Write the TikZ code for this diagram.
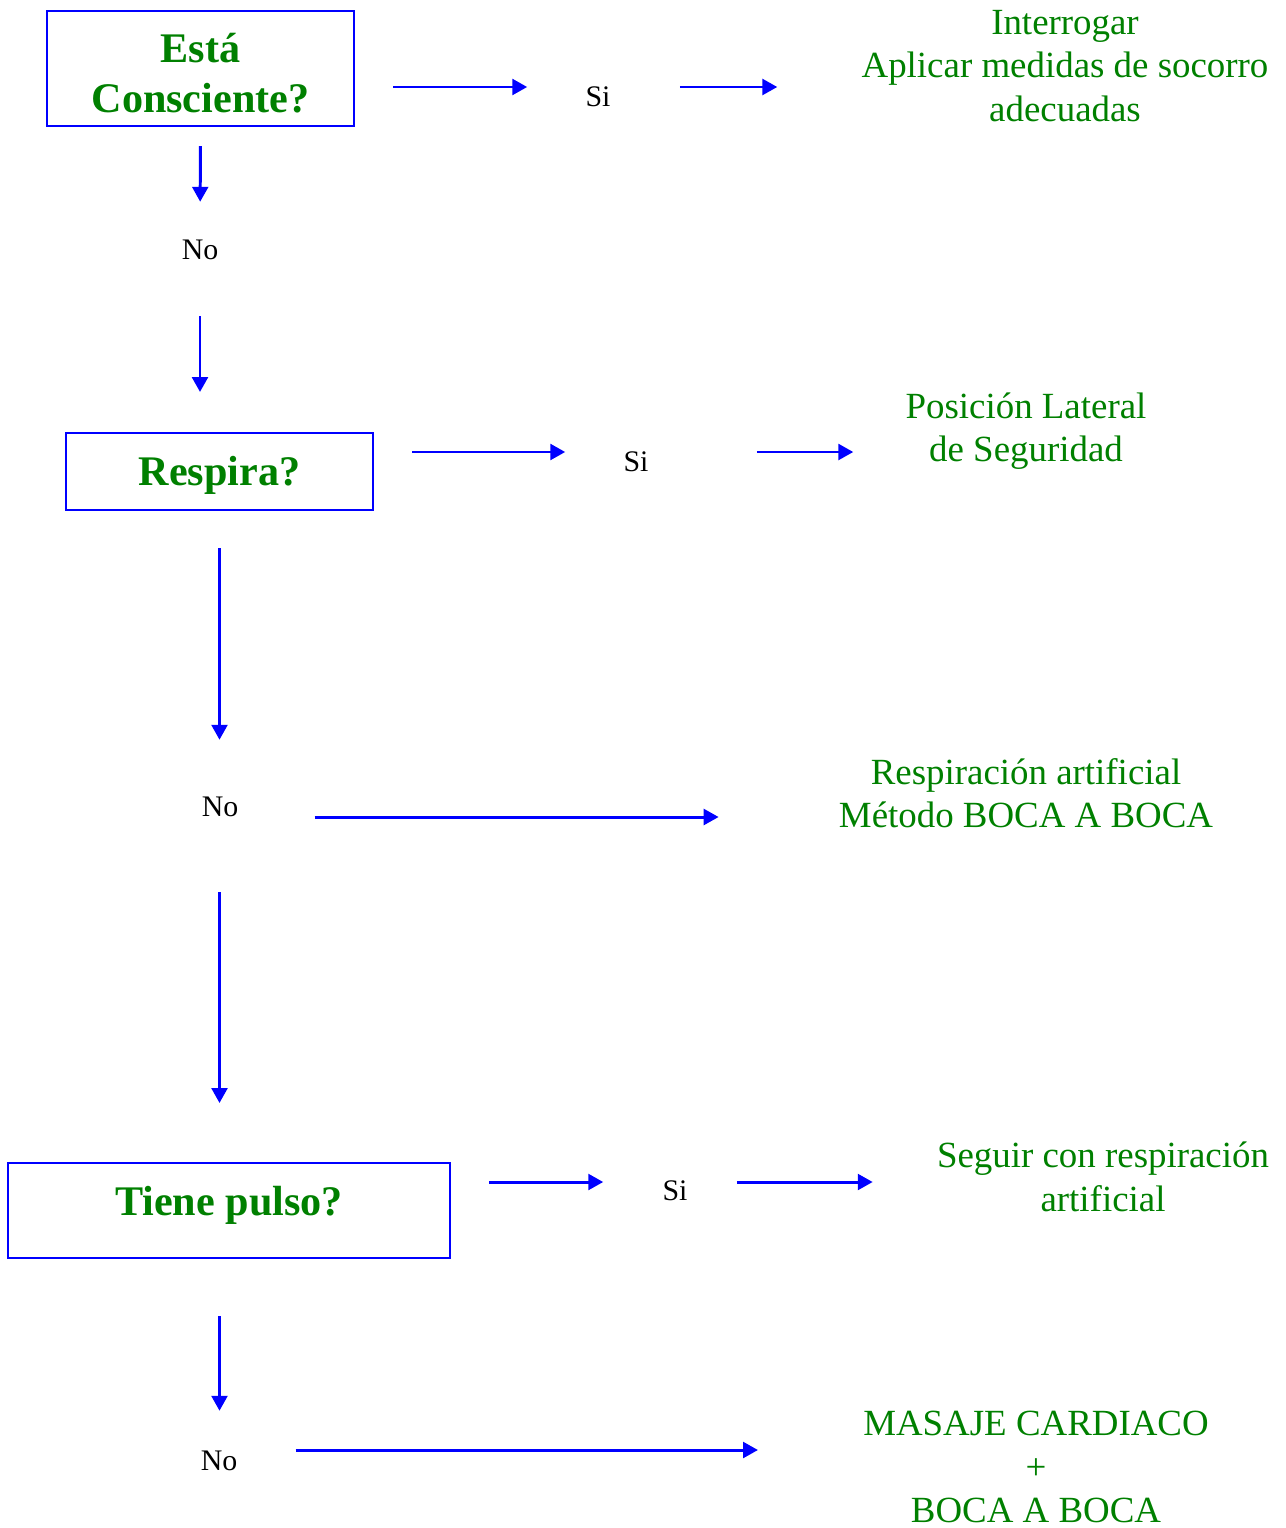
\documentclass[tikz,border=0pt]{standalone}
\usepackage{fontspec}
\setmainfont{Liberation Serif}
\usetikzlibrary{arrows.meta}
\definecolor{pasoverde}{RGB}{0,128,0}
\definecolor{flechazul}{RGB}{0,0,255}
\begin{document}
\begin{tikzpicture}[x=0.02cm,y=-0.02cm,
    pregunta/.style={draw=flechazul,line width=1.2pt,text=pasoverde,align=center,
      font=\fontsize{24}{28.5}\selectfont\bfseries},
    accion/.style={text=pasoverde,align=center,inner sep=0pt,
      font=\fontsize{21}{24.7}\selectfont},
    resp/.style={inner sep=0pt,font=\fontsize{17}{20}\selectfont},
    flecha/.style={draw=flechazul,line width=1.7pt,-{Triangle[length=8.5pt,width=9pt]}}]
  \useasboundingbox (0,0) rectangle (1285,1528);
  % preguntas
  \node[pregunta,minimum width=6.14cm,minimum height=2.3cm] (consc) at (200.5,68.5) {\rule{0pt}{21.5pt}Está\\Consciente?};
  \node[pregunta,minimum width=6.14cm,minimum height=1.54cm] (respira) at (219.5,471.5) {\rule{0pt}{21pt}Respira?};
  \node[pregunta,minimum width=8.84cm,minimum height=1.9cm] (pulso) at (229,1210.5) {\rule[-11pt]{0pt}{1pt}Tiene pulso?};
  % si / no
  \node[resp] (si1) at (598,97) {Si};
  \node[resp] (no1) at (200,250) {No};
  \node[resp] (si2) at (636,462) {Si};
  \node[resp] (no2) at (220,807) {No};
  \node[resp] (si3) at (675,1191) {Si};
  \node[resp] (no3) at (219,1461) {No};
  % acciones
  \node[accion] (interrogar) at (1065,66) {Interrogar\\Aplicar medidas de socorro\\adecuadas};
  \node[accion] (lateral) at (1026,431) {Posición Lateral\\de Seguridad};
  \node[accion] (bocaboca) at (1026,793) {Respiración artificial\\Método BOCA A BOCA};
  \node[accion] (seguir) at (1103,1177) {Seguir con respiración\\artificial};
  \node[accion] (masaje) at (1036,1467) {MASAJE CARDIACO\\+\\BOCA A BOCA};
  % filas de las flechas
  \coordinate (r1) at (0,87);
  \coordinate (r2) at (0,452);
  \coordinate (r3) at (0,817);
  \coordinate (r4) at (0,1182);
  \coordinate (r5) at (0,1450);
  % flechas horizontales
  \draw[flecha,shorten <=0.76cm,shorten >=1.16cm] (consc.east |- r1) -- (si1.west |- r1);
  \draw[flecha,shorten <=1.38cm,shorten >=1.68cm] (si1.east |- r1) -- (interrogar.west |- r1);
  \draw[flecha,shorten <=0.76cm,shorten >=1.16cm] (respira.east |- r2) -- (si2.west |- r2);
  \draw[flecha,shorten <=2.16cm,shorten >=1.04cm] (si2.east |- r2) -- (lateral.west |- r2);
  \draw[flecha,shorten <=1.52cm,shorten >=2.4cm] (no2.east |- r3) -- (bocaboca.west |- r3);
  \draw[flecha,shorten <=0.76cm,shorten >=1.18cm] (pulso.east |- r4) -- (si3.west |- r4);
  \draw[flecha,shorten <=0.98cm,shorten >=1.28cm] (si3.east |- r4) -- (seguir.west |- r4);
  \draw[flecha,shorten <=1.16cm,shorten >=2.1cm] (no3.east |- r5) -- (masaje.west |- r5);
  % flechas verticales
  \draw[flecha,shorten <=0.38cm,shorten >=0.76cm] (consc.south) -- (no1.north);
  \draw[flecha,shorten <=1.12cm,shorten >=0.8cm] (no1.south) -- (no1.south |- respira.north);
  \draw[flecha,shorten <=0.74cm,shorten >=1.14cm] (respira.south) -- (respira.south |- no2.north);
  \draw[flecha,shorten <=1.5cm,shorten >=1.18cm] (no2.south -| respira.south) -- (respira.south |- pulso.north);
  \draw[flecha,shorten <=1.14cm,shorten >=0.8cm] (pulso.south -| respira.south) -- (respira.south |- no3.north);
\end{tikzpicture}
\end{document}
